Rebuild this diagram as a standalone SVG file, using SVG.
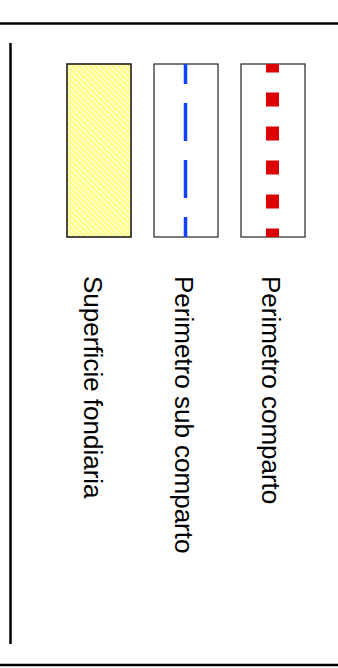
<svg xmlns="http://www.w3.org/2000/svg" width="338" height="668" viewBox="0 0 338 668">
<style>
.frame{stroke:#000;stroke-width:2.5;fill:none}
.box{fill:#fff;stroke:#333;stroke-width:1.3}
.lbl{font-family:"Liberation Sans",Arial,sans-serif;font-size:26px;fill:#000}
</style>
<defs>
<pattern id="hatch" width="4" height="4" patternUnits="userSpaceOnUse" patternTransform="rotate(-45)">
<rect width="4" height="4" fill="#ffffcc"/>
<rect width="2" height="4" fill="#ffff80"/>
</pattern>
</defs>
<rect width="338" height="668" fill="#fff"/>
<g id="frame">
<line class="frame" x1="0" y1="23.5" x2="338" y2="23.5"/>
<line class="frame" x1="0" y1="665" x2="338" y2="665"/>
<line class="frame" x1="10.5" y1="43" x2="10.5" y2="644"/>
</g>
<g id="superficie">
<rect x="67" y="64" width="64" height="173" fill="url(#hatch)" stroke="#111" stroke-width="1.5"/>
<text class="lbl" transform="translate(84,276) rotate(90)">Superficie fondiaria</text>
</g>
<g id="sub-comparto">
<rect class="box" x="154" y="64" width="64" height="173"/>
<line x1="185.5" y1="64" x2="185.5" y2="237" stroke="#1144ff" stroke-width="3.5" stroke-dasharray="38 19" stroke-dashoffset="18"/>
<text class="lbl" transform="translate(175,276) rotate(90)">Perimetro sub comparto</text>
</g>
<g id="comparto">
<rect class="box" x="241" y="64" width="64" height="173"/>
<line x1="272.5" y1="64" x2="272.5" y2="237" stroke="#dd0000" stroke-width="13" stroke-dasharray="14 20" stroke-dashoffset="5.5"/>
<text class="lbl" transform="translate(262,276) rotate(90)">Perimetro comparto</text>
</g>
</svg>
